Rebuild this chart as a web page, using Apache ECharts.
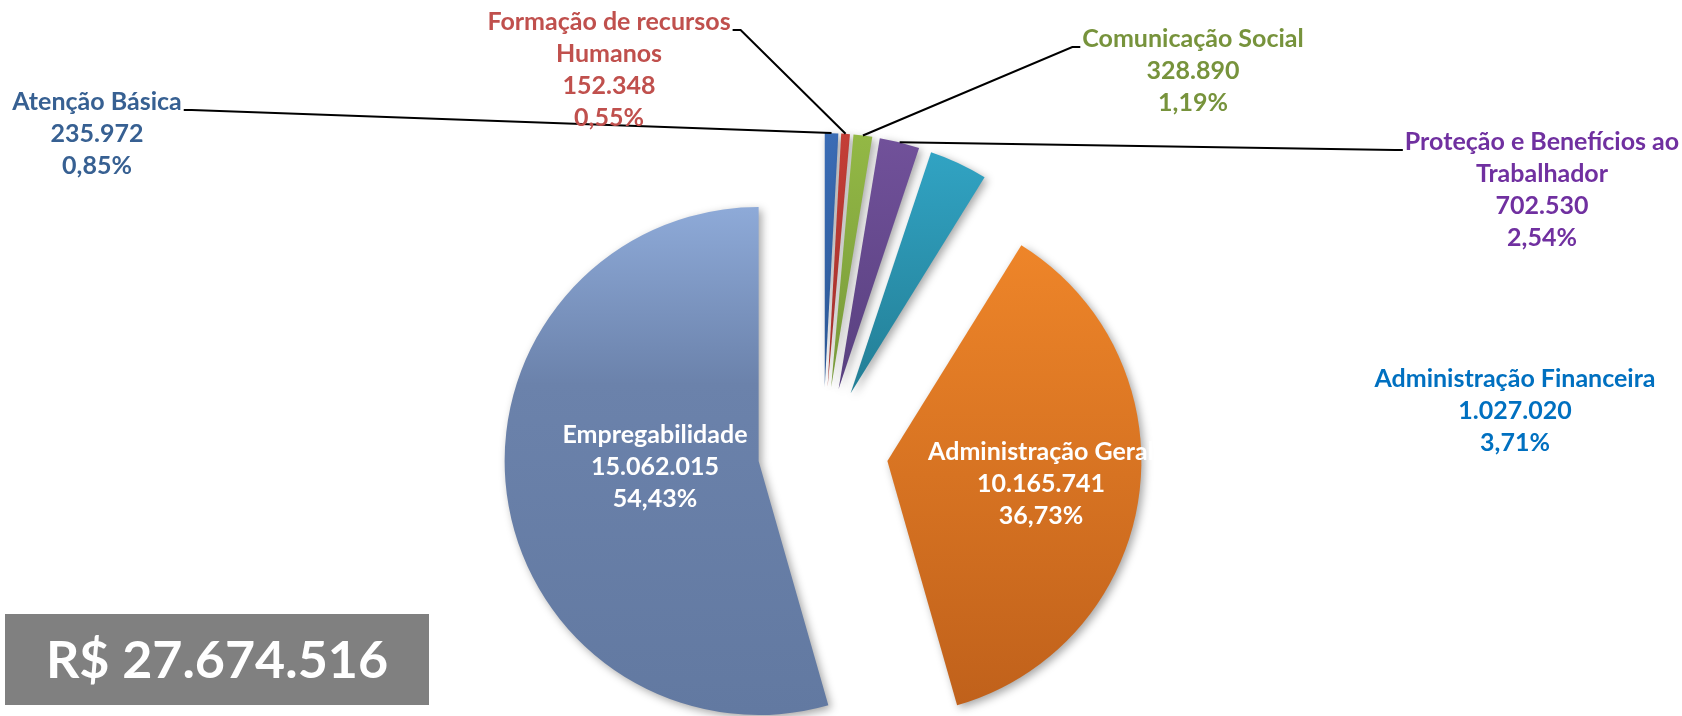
<!DOCTYPE html>
<html><head><meta charset="utf-8">
<script src="https://cdn.jsdelivr.net/npm/echarts@6/dist/echarts.min.js"></script>
<style>html,body{margin:0;padding:0;background:#fff}#c{width:1682px;height:716px}</style>
</head><body><div id="c"></div>
<script>
// ---- data ----
const categories = ['Atenção Básica', 'Formação de recursos\nHumanos', 'Comunicação Social',
  'Proteção e Benefícios ao\nTrabalhador', 'Administração Financeira', 'Administração Geral', 'Empregabilidade'];
const values = [235972, 152348, 328890, 702530, 1027020, 10165741, 15062015];

// ---- styles / layout ----
const gradTop = ['#3a6cb5', '#c43e37', '#93b845', '#71519a', '#31a3c3', '#ee8529', '#8eaad8'];
const gradBot = ['#2c5896', '#a3302b', '#77993a', '#58407f', '#237e95', '#c0611b', '#6279a1'];
const labelColors = ['#376092', '#c0504d', '#77933c', '#7030a0', '#0070c0', '#ffffff', '#ffffff'];
// [centerX, centerY, side of leader line: 1 right edge, -1 left edge, 0 none]
const labelCfg = [
  [97, 134, 1],
  [609, 70, 1],
  [1193, 71, -1],
  [1542, 190, -1],
  [1515, 411, 0],
  [1041, 484, 0],
  [655, 467, 0]
];
const pieCenter = [823, 452];
const pieRadius = 254;
const explode = 65;

function fmtNum(v) { return String(v).replace(/\B(?=(\d{3})+(?!\d))/g, '.'); }
const total = values.reduce((a, b) => a + b, 0);

const chart = echarts.init(document.getElementById('c'), null, { renderer: 'canvas' });

const sliceData = values.map((v, i) => ({
  name: categories[i],
  value: v,
  selected: true,
  itemStyle: {
    color: new echarts.graphic.LinearGradient(0, 0, 0, 1, i === 6
      ? [{ offset: 0, color: gradTop[i] }, { offset: 0.35, color: '#6b82ab' }, { offset: 1, color: gradBot[i] }]
      : [{ offset: 0, color: gradTop[i] }, { offset: 1, color: gradBot[i] }])
  }
}));

const labelData = values.map((v, i) => ({
  name: categories[i],
  value: v,
  label: { position: i >= 5 ? 'inside' : 'outside', color: labelColors[i] },
  labelLine: { show: labelCfg[i][2] !== 0 }
}));

chart.setOption({
  animation: false,
  backgroundColor: '#ffffff',
  series: [{
    type: 'pie',
    center: pieCenter,
    radius: pieRadius,
    startAngle: 90,
    clockwise: true,
    selectedMode: 'multiple',
    selectedOffset: explode,
    silent: true,
    itemStyle: {
      shadowBlur: 8, shadowColor: 'rgba(0,0,0,0.35)', shadowOffsetX: 3, shadowOffsetY: 3
    },
    select: { itemStyle: { borderWidth: 0 } },
    emphasis: { disabled: true },
    label: { show: false },
    labelLine: { show: false },
    data: sliceData
  }, {
    type: 'pie',
    center: pieCenter,
    radius: pieRadius,
    startAngle: 90,
    clockwise: true,
    silent: true,
    z: 5,
    avoidLabelOverlap: false,
    itemStyle: { color: 'rgba(0,0,0,0)' },
    emphasis: { disabled: true },
    label: {
      show: true,
      fontFamily: 'Lato',
      fontWeight: 'bold',
      fontSize: 25,
      lineHeight: 32,
      align: 'center',
      formatter: p => p.name + '\n' + fmtNum(p.value) + '\n' + p.percent.toFixed(2).replace('.', ',') + '%'
    },
    labelLine: { lineStyle: { color: '#000000', width: 2 } },
    labelLayout: function (p) {
      const c = labelCfg[p.dataIndex];
      const w = p.labelRect.width, h = p.labelRect.height;
      const res = { x: c[0], y: c[1], align: 'center', verticalAlign: 'middle' };
      if (c[2] !== 0 && p.labelLinePoints) {
        const a = p.labelLinePoints[0];
        const dx = a[0] - pieCenter[0], dy = a[1] - pieCenter[1];
        const len = Math.hypot(dx, dy) || 1;
        const ax = a[0] + dx / len * explode, ay = a[1] + dy / len * explode;
        const ex = c[0] + c[2] * (w / 2 + 2), ey = c[1] - h / 2 + 24;
        res.labelLinePoints = [[ax, ay], [ex + c[2] * 8, ey], [ex, ey]];
      }
      return res;
    },
    data: labelData
  }],
  graphic: [{
    type: 'group',
    left: 5, top: 614,
    children: [
      { type: 'rect', shape: { x: 0, y: 0, width: 424, height: 91 }, style: { fill: '#808080' } },
      { type: 'text', x: 212, y: 47, style: {
        text: 'R$ ' + fmtNum(total), fill: '#ffffff', font: 'bold 52px Lato',
        align: 'center', verticalAlign: 'middle' } }
    ]
  }]
});
</script></body></html>
